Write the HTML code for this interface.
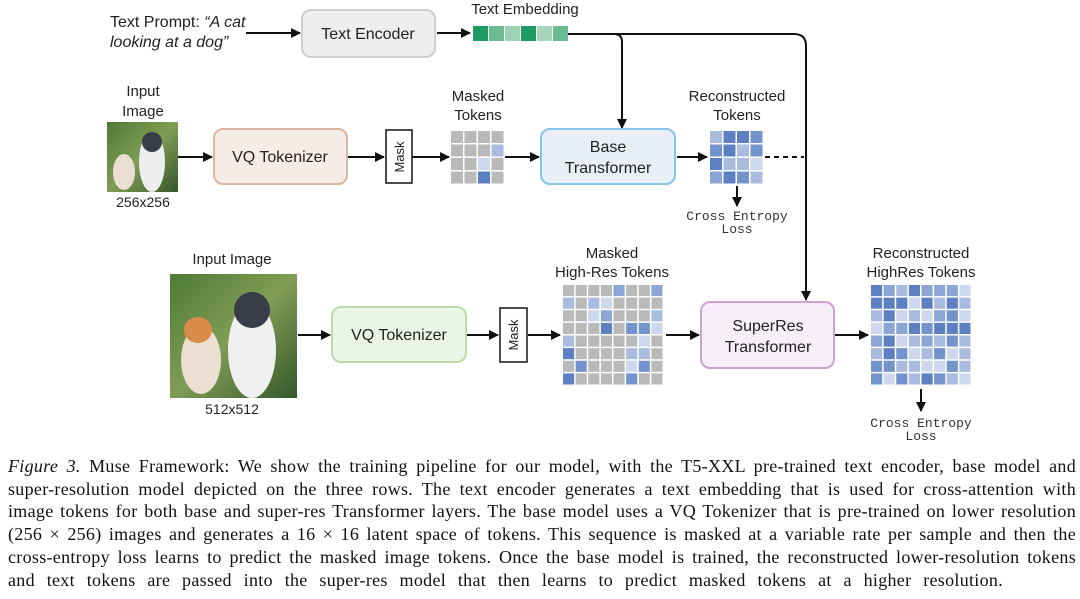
<!DOCTYPE html>
<html><head><meta charset="utf-8"><style>
body{margin:0;background:#fff;width:1080px;height:599px;overflow:hidden}
svg text{font-family:"Liberation Sans",sans-serif;fill:#222}
.m{font-family:"Liberation Mono",monospace!important;fill:#333}
#cap{position:absolute;left:8px;top:455px;width:1068px;font-family:"Liberation Serif",serif;font-size:18px;line-height:22.7px;color:#111}
#cap div{text-align:justify;text-align-last:justify;white-space:nowrap;letter-spacing:0.3px}
#cap div.l{width:995px}
</style></head><body>
<svg id="s" width="1080" height="450" style="position:absolute;left:0;top:0">
<defs>
<marker id="a" markerWidth="10" markerHeight="10" refX="9" refY="5" orient="auto" markerUnits="userSpaceOnUse"><path d="M0,0 L10,5 L0,10 z" fill="#111"/></marker>
<linearGradient id="img" x1="0" y1="0" x2="1" y2="1"><stop offset="0" stop-color="#4f7a34"/><stop offset="0.5" stop-color="#7f9d55"/><stop offset="1" stop-color="#35562a"/></linearGradient>
</defs>
<g stroke="#111" stroke-width="2" fill="none">
<line x1="246" y1="33" x2="300" y2="33" marker-end="url(#a)"/>
<line x1="437" y1="33" x2="470" y2="33" marker-end="url(#a)"/>
<path d="M568,34 H794 Q806,34 806,46 V300" marker-end="url(#a)"/>
<path d="M614,34 Q622,34 622,42 V128" marker-end="url(#a)"/>
<line x1="178" y1="157" x2="212" y2="157" marker-end="url(#a)"/>
<line x1="347" y1="157" x2="384" y2="157" marker-end="url(#a)"/>
<line x1="412" y1="157" x2="449" y2="157" marker-end="url(#a)"/>
<line x1="505" y1="157" x2="539" y2="157" marker-end="url(#a)"/>
<line x1="677" y1="157" x2="707" y2="157" marker-end="url(#a)"/>
<line x1="765" y1="157" x2="804" y2="157" stroke-dasharray="5,4"/>
<line x1="737" y1="186" x2="737" y2="206" marker-end="url(#a)"/>
<line x1="298" y1="335" x2="330" y2="335" marker-end="url(#a)"/>
<line x1="466" y1="335" x2="498" y2="335" marker-end="url(#a)"/>
<line x1="528" y1="335" x2="560" y2="335" marker-end="url(#a)"/>
<line x1="666" y1="335" x2="699" y2="335" marker-end="url(#a)"/>
<line x1="835" y1="335" x2="868" y2="335" marker-end="url(#a)"/>
<line x1="921" y1="389" x2="921" y2="411" marker-end="url(#a)"/>
</g>
<text x="110" y="27" font-size="16">Text Prompt:  <tspan font-style="italic">“A cat</tspan></text>
<text x="110" y="47" font-size="16" font-style="italic">looking at a dog”</text>
<rect x="302" y="10" width="133" height="47" rx="9" fill="#eeeeee" stroke="#cfcfcf" stroke-width="2"/>
<text x="368" y="39" font-size="16" text-anchor="middle">Text Encoder</text>
<text x="525" y="14" font-size="15" text-anchor="middle">Text Embedding</text>
<g id="emb"></g>
<text x="143" y="96" font-size="15" text-anchor="middle">Input</text>
<text x="143" y="116" font-size="15" text-anchor="middle">Image</text>
<rect x="107" y="122" width="71" height="70" fill="url(#img)"/>
<ellipse cx="124" cy="172" rx="11" ry="18" fill="#e9dfd2"/><ellipse cx="152" cy="162" rx="13" ry="30" fill="#eee"/><ellipse cx="152" cy="142" rx="10" ry="10" fill="#3a3d48"/>
<text x="143" y="207" font-size="14" text-anchor="middle">256x256</text>
<rect x="214" y="129" width="133" height="55" rx="9" fill="#f6ece7" stroke="#dcb6a2" stroke-width="2"/>
<text x="280" y="162" font-size="16" text-anchor="middle">VQ Tokenizer</text>
<rect x="386" y="130" width="26" height="53" fill="#fff" stroke="#111" stroke-width="1.5"/>
<text transform="translate(404,157) rotate(-90)" font-size="13" text-anchor="middle">Mask</text>
<text x="478" y="101" font-size="15" text-anchor="middle">Masked</text>
<text x="478" y="120" font-size="15" text-anchor="middle">Tokens</text>
<rect x="541" y="129" width="134" height="55" rx="9" fill="#e9eff7" stroke="#86c3ef" stroke-width="2"/>
<text x="608" y="152" font-size="16" text-anchor="middle">Base</text>
<text x="608" y="173" font-size="16" text-anchor="middle">Transformer</text>
<text x="737" y="101" font-size="15" text-anchor="middle">Reconstructed</text>
<text x="737" y="120" font-size="15" text-anchor="middle">Tokens</text>
<text x="737" y="220" font-size="13" text-anchor="middle" class="m">Cross Entropy</text>
<text x="737" y="233" font-size="13" text-anchor="middle" class="m">Loss</text>
<text x="232" y="264" font-size="15" text-anchor="middle">Input Image</text>
<rect x="170" y="274" width="127" height="124" fill="url(#img)"/>
<ellipse cx="201" cy="360" rx="20" ry="34" fill="#eadfd0"/><ellipse cx="198" cy="330" rx="14" ry="13" fill="#d98c4a"/><ellipse cx="252" cy="350" rx="24" ry="48" fill="#f0f0f0"/><ellipse cx="252" cy="310" rx="18" ry="18" fill="#3a3d48"/>
<text x="232" y="414" font-size="14" text-anchor="middle">512x512</text>
<rect x="332" y="307" width="134" height="55" rx="9" fill="#ebf5e7" stroke="#b7dca8" stroke-width="2"/>
<text x="399" y="340" font-size="16" text-anchor="middle">VQ Tokenizer</text>
<rect x="500" y="308" width="27" height="54" fill="#fff" stroke="#111" stroke-width="1.5"/>
<text transform="translate(518,335) rotate(-90)" font-size="13" text-anchor="middle">Mask</text>
<text x="612" y="258" font-size="15" text-anchor="middle">Masked</text>
<text x="612" y="277" font-size="15" text-anchor="middle">High-Res Tokens</text>
<rect x="701" y="302" width="133" height="66" rx="9" fill="#f6eff7" stroke="#cca2d3" stroke-width="2"/>
<text x="768" y="331" font-size="16" text-anchor="middle">SuperRes</text>
<text x="768" y="352" font-size="16" text-anchor="middle">Transformer</text>
<text x="921" y="258" font-size="15" text-anchor="middle">Reconstructed</text>
<text x="921" y="277" font-size="15" text-anchor="middle">HighRes Tokens</text>
<text x="921" y="427" font-size="13" text-anchor="middle" class="m">Cross Entropy</text>
<text x="921" y="440" font-size="13" text-anchor="middle" class="m">Loss</text>
<g id="grids"></g>
</svg>
<div id="cap">
<div><i>Figure 3.</i> Muse Framework: We show the training pipeline for our model, with the T5-XXL pre-trained text encoder, base model and</div>
<div>super-resolution model depicted on the three rows. The text encoder generates a text embedding that is used for cross-attention with</div>
<div>image tokens for both base and super-res Transformer layers. The base model uses a VQ Tokenizer that is pre-trained on lower resolution</div>
<div>(256 × 256) images and generates a 16 × 16 latent space of tokens. This sequence is masked at a variable rate per sample and then the</div>
<div>cross-entropy loss learns to predict the masked image tokens. Once the base model is trained, the reconstructed lower-resolution tokens</div>
<div class="l">and text tokens are passed into the super-res model that then learns to predict masked tokens at a higher resolution.</div>
</div>
<script>
var ns="http://www.w3.org/2000/svg";
function r(g,x,y,w,h,c){var e=document.createElementNS(ns,"rect");e.setAttribute("x",x);e.setAttribute("y",y);e.setAttribute("width",w);e.setAttribute("height",h);e.setAttribute("fill",c);g.appendChild(e);}
var emb=document.getElementById("emb"),ec=["#1e9a63","#6bbb92","#9fd1b5","#1e9a63","#a8d6bd","#6bbb92"];
for(var i=0;i<6;i++)r(emb,473+i*16,26,15,15,ec[i]);
var G=document.getElementById("grids");
var B=["#5d80c2","#8ba5d5","#a9bce0","#cdd8ee","#7393cc"],Gy="#b9b9b9";
var seed=7;function rnd(){seed=(seed*9301+49297)%233280;return seed/233280;}
function grid(x0,y0,n,size,masked){var s=size/n;for(var i=0;i<n;i++)for(var j=0;j<n;j++){var c=masked&&rnd()<0.6?Gy:B[Math.floor(rnd()*5)];r(G,x0+j*s,y0+i*s,s-1.5,s-1.5,c);}}
grid(451,131,4,54,true);grid(710,131,4,54,false);grid(563,285,8,101,true);grid(871,285,8,101,false);
</script>
</body></html>
